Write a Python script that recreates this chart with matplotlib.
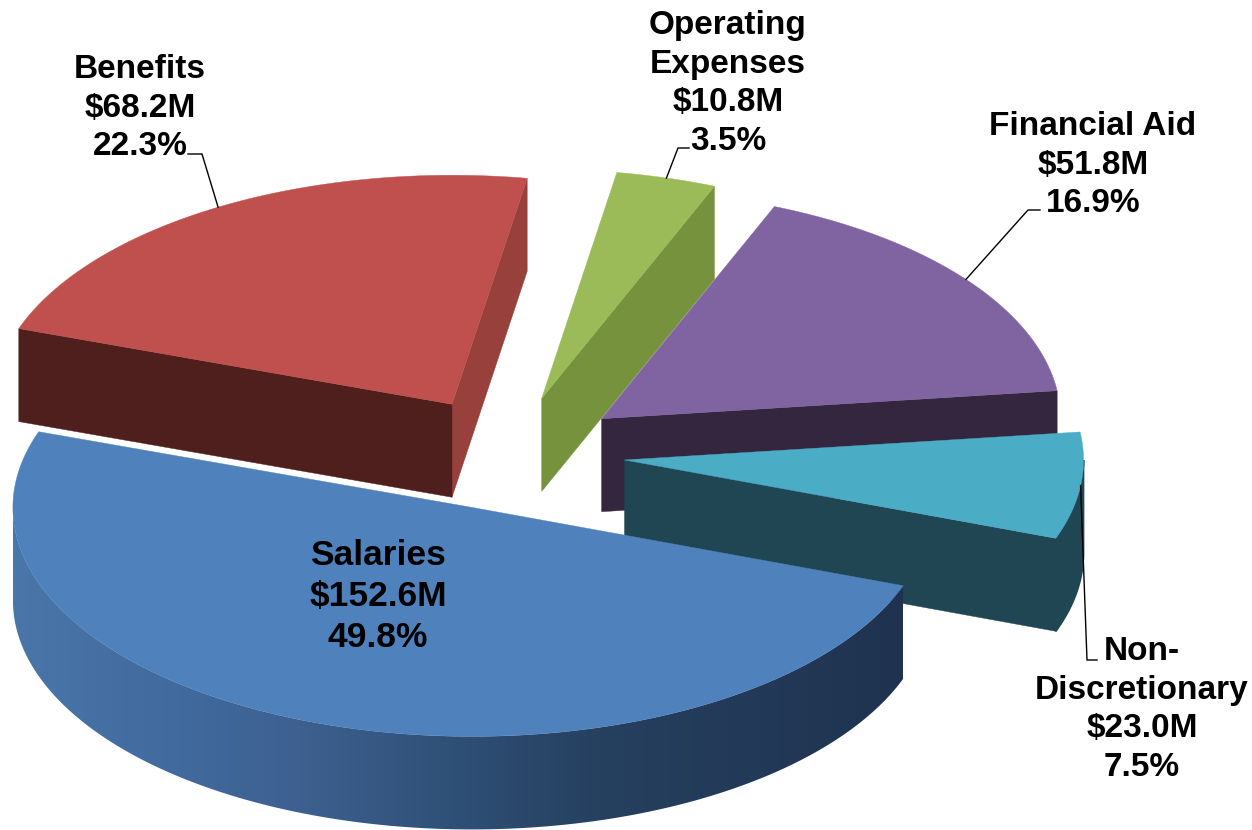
import numpy as np
import matplotlib
matplotlib.use("Agg")
import matplotlib.pyplot as plt
from matplotlib.patches import Polygon
from matplotlib.colors import to_rgb

# ========== Data ==========
categories = ["Salaries", "Benefits", "Operating\nExpenses", "Financial Aid", "Non-\nDiscretionary"]
values = [152.6, 68.2, 10.8, 51.8, 23.0]
percents = [49.8, 22.3, 3.5, 16.9, 7.5]

# ========== Styles ==========
top_colors = ["#4F81BD", "#C0504D", "#9BBB59", "#8064A2", "#4BACC6"]
start_cut_colors = [None, "#4E1F1D", None, None, None]            # face at the slice's first edge
end_cut_colors = [None, "#98403C", "#76923C", "#35263F", "#1F4652"]  # face at the slice's last edge
draw_order = [2, 1, 3, 4, 0]

# pie geometry in pixels
cx, cy = 510.5, 453.5
rx, ry = 459, 229
depth = 93
explode = 0.25
start_angle = -20.0

# salaries wall gradient by x pixel
grad_x = [13, 180, 300, 450, 600, 903]
grad_c = ["#4A76A9", "#416A9E", "#3D6090", "#2F5077", "#26405F", "#1F3350"]
grad_rgb = np.array([to_rgb(c) for c in grad_c])

# label text: centre x, first baseline, line pitch, font size
label_pos = [(378, 565), (140, 78), (728, 34), (1093, 135), (1142, 660)]
label_pitch = [41, 38.6, 38.6, 38.6, 38.6]
label_size = [25.5, 24, 24, 24, 24]
# leader line: text end, elbow (None = label sits on the slice)
leaders = [None,
           [(188, 154), (202, 154)],
           [(689, 148), (678, 148)],
           [(1040, 210), (1028, 210)],
           [(1097, 660), (1087, 660)]]


def pt(apex, deg):
    t = np.radians(deg)
    return apex[0] + rx * np.cos(t), apex[1] - ry * np.sin(t)


def arc(apex, a0, a1, n=200):
    return np.array([pt(apex, a) for a in np.linspace(a0, a1, n)])


def extrude(ax, p0, p1, color, z):
    ax.add_patch(Polygon([p0, p1, (p1[0], p1[1] + depth), (p0[0], p0[1] + depth)],
                         closed=True, fc=color, ec=color, lw=0.3, zorder=z))


fig = plt.figure(figsize=(12.52, 8.3), dpi=100)
ax = fig.add_axes([0, 0, 1, 1])

# slice angles, clockwise from the start angle, first edge kept in -180..180
total = sum(values)
sweeps = np.array([v / total * 360 for v in values])
starts = (start_angle - np.concatenate([[0], np.cumsum(sweeps)[:-1]]) + 180) % 360 - 180
ends = starts - sweeps
mids = (starts + ends) / 2
apexes = [(cx + explode * rx * np.cos(np.radians(m)), cy - explode * ry * np.sin(np.radians(m))) for m in mids]

z = 1
for i in draw_order:
    apex = apexes[i]
    a0, a1 = starts[i], ends[i]

    # ---- cut faces ----
    if end_cut_colors[i]:
        extrude(ax, apex, pt(apex, a1), end_cut_colors[i], z)
    if start_cut_colors[i]:
        extrude(ax, apex, pt(apex, a0), start_cut_colors[i], z + 0.1)

    # ---- outer wall, only the part below the horizontal faces the viewer ----
    if a1 < 0:
        upper = arc(apex, min(a0, 0), max(a1, -180))
        lower = upper[::-1] + [0, depth]
        if i == 0:
            wall = Polygon(np.vstack([upper, lower]), closed=True, fc="none", lw=0, zorder=z + 0.2)
            ax.add_patch(wall)
            xs = np.linspace(grad_x[0], grad_x[-1], 400)
            grad = np.column_stack([np.interp(xs, grad_x, grad_rgb[:, k]) for k in range(3)])
            im = ax.imshow(grad[None, :, :], extent=(xs[0], xs[-1], 900, 400), aspect="auto",
                           interpolation="bilinear", zorder=z + 0.2)
            im.set_clip_path(wall)
        else:
            ax.add_patch(Polygon(np.vstack([upper, lower]), closed=True, fc=end_cut_colors[i],
                                 ec=end_cut_colors[i], lw=1.2, zorder=z + 0.2))

    # ---- top face ----
    top = np.vstack([[apex], arc(apex, a0, a1)])
    ax.add_patch(Polygon(top, closed=True, fc=top_colors[i], ec=top_colors[i], lw=0.3, zorder=z + 0.3))
    z += 1

# ---- labels and leader lines ----
for i, name in enumerate(categories):
    lines = name.split("\n") + [f"${values[i]:.1f}M", f"{percents[i]:.1f}%"]
    x0, y0 = label_pos[i]
    for k, line in enumerate(lines):
        ax.text(x0, y0 + k * label_pitch[i], line, ha="center", va="baseline", fontsize=label_size[i],
                fontweight="bold", family="Liberation Sans", color="black", zorder=20)
    if leaders[i]:
        anchor = pt(apexes[i], mids[i])
        xs = [leaders[i][0][0], leaders[i][1][0], anchor[0]]
        ys = [leaders[i][0][1], leaders[i][1][1], anchor[1]]
        ax.plot(xs, ys, color="black", lw=1.0, zorder=10, solid_joinstyle="miter")

ax.set_xlim(0, 1252)
ax.set_ylim(830, 0)
ax.axis("off")

fig.savefig("out.png", dpi=100)
